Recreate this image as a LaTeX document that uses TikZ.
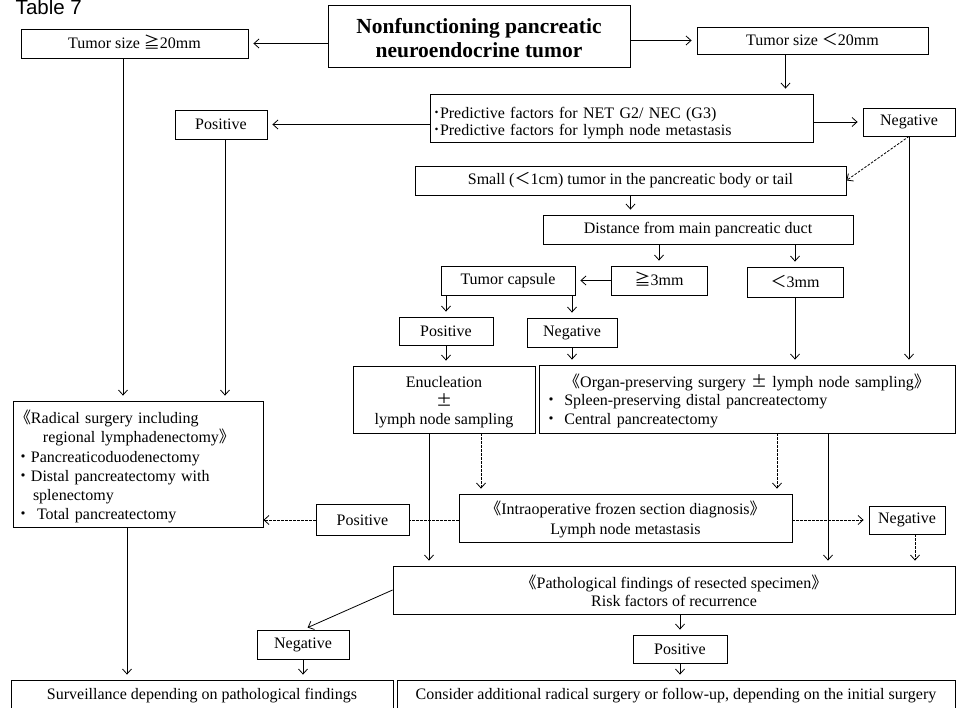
\documentclass[tikz,border=0pt]{standalone}
\usepackage{fontspec}
\setmainfont{Liberation Serif}
\newfontfamily\tablefont{Liberation Sans}
\newfontfamily\cjk{Noto Sans CJK JP}
\newcommand{\jge}{\smash{\cjk ≧}}
\newcommand{\jlt}{\smash{\cjk ＜}}
\newcommand{\jlb}{\smash{\cjk 《}}
\newcommand{\jrb}{\smash{\cjk 》}}
\newcommand{\jdot}{\makebox[16pt][c]{\smash{\cjk ・}}}
\newcommand{\jhdot}{\makebox[7pt][c]{\smash{\cjk ･}}}
\newcommand{\jpm}{\smash{\cjk ±}}
\newcommand{\sink}[1]{\rule{0pt}{#1}}
\usetikzlibrary{arrows.meta, positioning, calc}

\begin{document}
\begin{tikzpicture}[x=1pt, y=-1pt, >={Straight Barb[length=5pt,width=9pt]}, line width=0.8pt]
    % Define box and link styles locally
    \tikzstyle{box} = [draw, inner sep=2pt, align=center, font=\fontsize{16}{18.5}\selectfont]
    \tikzstyle{link} = [->, shorten >=5pt]
    \tikzstyle{dlink} = [link, dash pattern=on 2.5pt off 1.5pt]
    \tikzstyle{dline} = [dash pattern=on 2.5pt off 1.5pt]

    \useasboundingbox (0,0) rectangle (960,708);

    % Title
    \node[anchor=base west, font=\tablefont\fontsize{20.5}{22}\selectfont] (tab) at (12,14.5) {Table 7};

    % Tumor size
    \node[box, minimum width=302pt, minimum height=62pt, font=\fontsize{21.5}{24}\selectfont\bfseries] (main) at (479,36) {\sink{18.5pt}Nonfunctioning pancreatic\\neuroendocrine tumor};
    \node[box, minimum width=227pt, minimum height=29pt] (tumorA) at (134.5,43.5) {Tumor size \jge20mm};
    \node[box, minimum width=231pt, minimum height=27pt] (tumorB) at (812.5,40.5) {Tumor size \jlt20mm};

    % Predictive factors
    \node[box, text width=377pt, inner xsep=3pt, minimum height=48pt, align=left, font=\fontsize{16}{17.5}\selectfont] (pred) at (621.5,118) {\sink{21pt}\jhdot Predictive factors for NET G2/ NEC (G3)\\\jhdot Predictive factors for lymph node metastasis};
    \node[box, minimum width=92pt, minimum height=29pt] (posA) at (221,124.5) {Positive};
    \node[box, minimum width=92pt, minimum height=28pt] (negA) at (909,122) {Negative};

    % Small tumor branch
    \node[box, minimum width=431pt, minimum height=29pt] (small) at (630.5,180.5) {Small (\jlt1cm) tumor in the pancreatic body or tail};
    \node[box, minimum width=310pt, minimum height=29pt] (dist) at (698,229.5) {Distance from main pancreatic duct};
    \node[box, minimum width=96pt, minimum height=29pt] (ge3) at (659,280.5) {\jge3mm};
    \node[box, minimum width=96pt, minimum height=30pt] (lt3) at (795,282) {\jlt3mm};
    \node[box, minimum width=134pt, minimum height=29pt] (capsule) at (508,280.5) {Tumor capsule};
    \node[box, minimum width=94pt, minimum height=28pt] (posB) at (446,331) {Positive};
    \node[box, minimum width=90pt, minimum height=29pt] (negB) at (572,332.5) {Negative};

    % Surgery
    \node[box, minimum width=182pt, minimum height=67pt] (enuc) at (444,399.5) {\sink{17pt}Enucleation\\\jpm\\lymph node sampling};
    \node[box, text width=408pt, inner xsep=4pt, minimum height=68pt, align=left] (organ) at (747,399) {\sink{17pt}\null\hfill\jlb Organ-preserving surgery \jpm\ lymph node sampling\jrb\hfill\null\\\jdot\ Spleen-preserving distal pancreatectomy\\\jdot\ Central pancreatectomy};
    \node[box, text width=246pt, minimum height=126pt, align=left, font=\fontsize{16}{19.2}\selectfont] (radical) at (138,464) {\sink{19pt}\jlb Radical surgery including\\\hspace*{28pt}regional lymphadenectomy\jrb\\\jdot Pancreaticoduodenectomy\\\jdot Distal pancreatectomy with\\\hspace*{18pt}splenectomy\\\jdot\hspace{6pt}Total pancreatectomy};

    % Frozen section
    \node[box, minimum width=333pt, minimum height=48pt, font=\fontsize{16}{20}\selectfont] (intra) at (625.5,518) {\sink{16pt}\jlb Intraoperative frozen section diagnosis\jrb\\Lymph node metastasis};
    \node[box, minimum width=93pt, minimum height=31pt] (posC) at (362.5,520) {Positive};
    \node[box, minimum width=76pt, minimum height=28pt] (negC) at (907,520) {Negative};

    % Pathology and outcome
    \node[box, minimum width=562pt, minimum height=48pt] (path) at (674,590) {\sink{15pt}\jlb Pathological findings of resected specimen\jrb\\Risk factors of recurrence};
    \node[box, minimum width=92pt, minimum height=29pt] (negD) at (303,644.5) {Negative};
    \node[box, minimum width=94pt, minimum height=28pt] (posD) at (680,649) {Positive};
    \node[box, minimum width=382pt, minimum height=32pt] (surv) at (202,696) {Surveillance depending on pathological findings};
    \node[box, minimum width=558pt, minimum height=32pt] (consider) at (676,696) {Consider additional radical surgery or follow-up, depending on the initial surgery};

    % Links
    % Tumor size split
    \draw[link] (main.west |- tumorA) -- (tumorA.east);
    \draw[link] (main.east |- tumorB) -- (tumorB.west);
    \coordinate (tb) at ([xshift=-27pt]tumorB.south);
    \draw[link] (tb) -- (tb |- pred.north);

    % Predictive factors
    \draw[link] (pred.west |- posA) -- (posA.east);
    \draw[link] (pred.east |- negA) -- (negA.west);
    \draw[dlink, shorten >=0pt] (negA.south) -- (small.east);
    \coordinate (ta) at ([xshift=-11.5pt]tumorA.south);
    \draw[link] (ta) -- (ta |- radical.north);
    \coordinate (pa) at ([xshift=4pt]posA.south);
    \draw[link] (pa) -- (pa |- radical.north);

    % Small tumor branch
    \draw[link] (small.south) -- (small.south |- dist.north);
    \draw[link] (ge3.north |- dist.south) -- (ge3.north);
    \draw[link] (lt3.north |- dist.south) -- (lt3.north);
    \draw[link] (ge3.west) -- (capsule.east);
    \draw[link] (posB.north |- capsule.south) -- (posB.north);
    \draw[link] (negB.north |- capsule.south) -- (negB.north);
    \draw[link] (posB.south) -- (posB.south |- enuc.north);
    \draw[link] (negB.south) -- (negB.south |- organ.north);
    \draw[link] (lt3.south) -- (lt3.south |- organ.north);
    \draw[link] (negA.south) -- (negA.south |- organ.north);

    % Surgery -> frozen section / pathology
    \coordinate (e1) at ([xshift=-15pt]enuc.south);
    \draw[link] (e1) -- (e1 |- path.north);
    \coordinate (e2) at ([xshift=37pt]enuc.south);
    \draw[dlink] (e2) -- (e2 |- intra.north);
    \coordinate (o1) at ([xshift=30pt]organ.south);
    \draw[dlink] (o1) -- (o1 |- intra.north);
    \coordinate (o2) at ([xshift=81pt]organ.south);
    \draw[link] (o2) -- (o2 |- path.north);

    % Frozen section results
    \draw[dline] (intra.west |- posC) -- (posC.east);
    \draw[dlink, shorten >=0pt] (posC.west) -- (radical.east |- posC);
    \draw[dlink] (intra.east |- negC) -- (negC.west);
    \coordinate (nc) at ([xshift=8pt]negC.south);
    \draw[dlink] (nc) -- (nc |- path.north);

    % Outcome
    \coordinate (ra) at ([xshift=-11pt]radical.south);
    \draw[link] (ra) -- (ra |- surv.north);
    \draw[link] (path.west) -- (negD.north);
    \draw[link] (negD.south) -- (negD.south |- surv.north);
    \draw[link] (posD.north |- path.south) -- (posD.north);
    \draw[link] (posD.south) -- (posD.south |- consider.north);

\end{tikzpicture}
\end{document}
